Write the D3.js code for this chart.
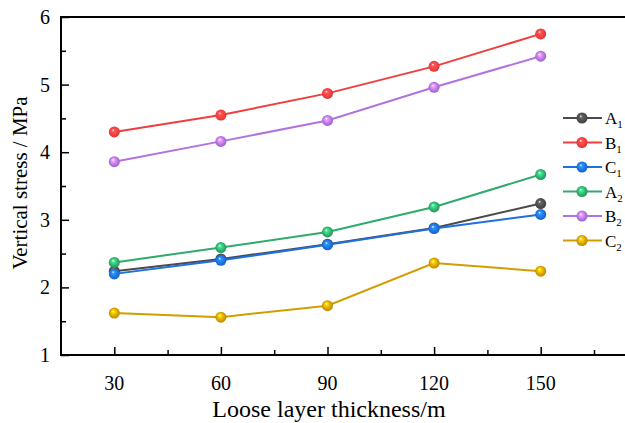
<!DOCTYPE html>
<html>
<head>
<script src="https://d3js.org/d3.v7.min.js"></script>
<title>Vertical stress vs loose layer thickness</title>
<style>
body {
	margin: 0;
	background: #fff;
}
#root {
	width: 625px;
	height: 423px;
	display: block;
}
#root text {
	font-family: 'Liberation Serif', 'Times New Roman', Times, serif;
}
</style>
</head>
<body>
<svg id="root" width="625" height="423"></svg>

<script>
// data
let thickness = [30, 60, 90, 120, 150]
let seriesNames = [['A', '1'], ['B', '1'], ['C', '1'], ['A', '2'], ['B', '2'], ['C', '2']]
let seriesColors = ['#4a4a4a', '#f03e3e', '#1e6fe0', '#2fab6b', '#b073e0', '#d39d00']
let A1 = [2.24, 2.42, 2.64, 2.88, 3.24]
let B1 = [4.30, 4.55, 4.87, 5.27, 5.75]
let C1 = [2.20, 2.40, 2.63, 2.87, 3.08]
let A2 = [2.37, 2.59, 2.82, 3.19, 3.67]
let B2 = [3.86, 4.16, 4.47, 4.96, 5.42]
let C2 = [1.62, 1.56, 1.73, 2.36, 2.24]
let yTicks = [1, 2, 3, 4, 5, 6]
let xTicks = [30, 60, 90, 120, 150]

let allSeries = [A1, B1, C1, A2, B2, C2]
const serif = "'Liberation Serif', 'Times New Roman', Times, serif"

let svg = d3.select('#root')

let x = d3.scaleLinear().domain([15, 180]).range([61, 647.3])
let y = d3.scaleLinear().domain([1, 6]).range([355, 17])

// ball gradients
let defs = svg.append('defs')
seriesColors.forEach((c, i) => {
	let g = defs.append('radialGradient')
		.attr('id', 'ball' + i)
		.attr('cx', '0.5').attr('cy', '0.5').attr('r', '0.55')
		.attr('fx', '0.38').attr('fy', '0.32')
	g.append('stop').attr('offset', '0').attr('stop-color', '#ffffff')
	g.append('stop').attr('offset', '0.22').attr('stop-color', d3.color(c).brighter(0.9))
	g.append('stop').attr('offset', '0.7').attr('stop-color', c)
	g.append('stop').attr('offset', '1').attr('stop-color', d3.color(c).darker(0.5))
})

// axes
let yAxis = svg.append('g').attr('transform', 'translate(61,0)')
	.call(d3.axisRight(y).tickValues(yTicks).tickSize(8).tickFormat(''))
yAxis.select('.domain').remove()
yAxis.selectAll('line').attr('stroke', '#000').attr('stroke-width', 1.5)

svg.append('g').attr('transform', 'translate(61,0)')
	.call(d3.axisRight(y).tickValues(d3.range(1.5, 6, 1)).tickSize(5).tickFormat(''))
	.call(g => g.select('.domain').remove())
	.selectAll('line').attr('stroke', '#000').attr('stroke-width', 1.5)

svg.selectAll('.ylab').data(yTicks).enter().append('text')
	.attr('class', 'ylab')
	.attr('x', 50).attr('y', d => y(d) + 7)
	.attr('text-anchor', 'end')
	.attr('font-family', serif)
	.attr('font-size', 20)
	.text(d => d)

svg.append('g').attr('transform', 'translate(0,355)')
	.call(d3.axisTop(x).tickValues(xTicks).tickSize(8).tickFormat(''))
	.call(g => g.select('.domain').remove())
	.selectAll('line').attr('stroke', '#000').attr('stroke-width', 1.5)

svg.append('g').attr('transform', 'translate(0,355)')
	.call(d3.axisTop(x).tickValues(d3.range(45, 180, 30)).tickSize(5).tickFormat(''))
	.call(g => g.select('.domain').remove())
	.selectAll('line').attr('stroke', '#000').attr('stroke-width', 1.5)

svg.selectAll('.xlab').data(xTicks).enter().append('text')
	.attr('class', 'xlab')
	.attr('x', d => x(d)).attr('y', 390)
	.attr('text-anchor', 'middle')
	.attr('font-family', serif)
	.attr('font-size', 20)
	.text(d => d)

// frame lines
svg.append('line').attr('x1', 61).attr('x2', 625).attr('y1', 355).attr('y2', 355)
	.attr('stroke', '#000').attr('stroke-width', 2)
svg.append('line').attr('x1', 61).attr('x2', 625).attr('y1', 17).attr('y2', 17)
	.attr('stroke', '#000').attr('stroke-width', 2)
svg.append('line').attr('x1', 61).attr('x2', 61).attr('y1', 16).attr('y2', 356)
	.attr('stroke', '#000').attr('stroke-width', 2)

// titles
svg.append('text')
	.attr('x', 329).attr('y', 417)
	.attr('text-anchor', 'middle')
	.attr('font-family', serif)
	.attr('font-size', 24)
	.text('Loose layer thickness/m')

svg.append('text')
	.attr('transform', 'translate(27,183) rotate(-90)')
	.attr('text-anchor', 'middle')
	.attr('font-family', serif)
	.attr('font-size', 21)
	.text('Vertical stress / MPa')

// series
let line = d3.line().x((d, i) => x(thickness[i])).y(d => y(d))

allSeries.forEach((s, k) => {
	let g = svg.append('g').attr('class', 'series')
	g.append('path').datum(s)
		.attr('d', line)
		.attr('fill', 'none')
		.attr('stroke', seriesColors[k])
		.attr('stroke-width', 2)
	g.selectAll('circle').data(s).enter().append('circle')
		.attr('cx', (d, i) => x(thickness[i]))
		.attr('cy', d => y(d))
		.attr('r', 5.5)
		.attr('fill', 'url(#ball' + k + ')')
})

// legend
let legend = svg.append('g')
seriesNames.forEach((n, k) => {
	let ly = 118 + k * 24.5
	legend.append('line')
		.attr('x1', 563).attr('x2', 602).attr('y1', ly).attr('y2', ly)
		.attr('stroke', seriesColors[k]).attr('stroke-width', 2)
	legend.append('circle')
		.attr('cx', 582).attr('cy', ly).attr('r', 5.5)
		.attr('fill', 'url(#ball' + k + ')')
	let t = legend.append('text')
		.attr('x', 605).attr('y', ly + 6)
		.attr('font-family', serif)
		.attr('font-size', 17)
	t.append('tspan').text(n[0])
	t.append('tspan').attr('font-size', 11).attr('dy', 4).text(n[1])
})
</script>
</body>
</html>
